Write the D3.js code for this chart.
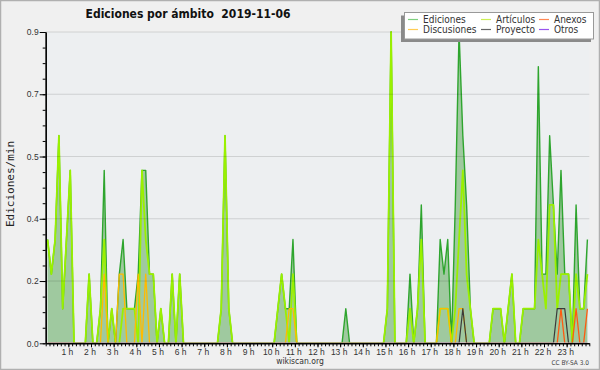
<!DOCTYPE html>
<html>
  <head>
    <meta charset="utf-8"/>
    <script type="text/javascript" src="https://cdnjs.cloudflare.com/ajax/libs/d3/7.8.5/d3.min.js"></script>
    <style type="text/css">

html, body {
  margin: 0;
  padding: 0;
  background: #f0f0f0;
}

svg {
  display: block;
  font-family: "DejaVu Sans Condensed", "DejaVu Sans", sans-serif;
}

.axis text {
  font-size: 8.5px;
  fill: #333;
}

.axis line, .axis path {
  stroke: #000;
}

.serie {
  fill: none;
  stroke-linejoin: round;
}

    </style>
  </head>
  <body>
    <div id="chart"></div>
    <script type="text/javascript">

// one value per 10 minute slot, edits per minute (144 slots)
var ediciones = [
  0.3, 0.2, 0.3, 0.6, 0.1, 0.3, 0.5, 0, 0, 0, 0, 0.2,
  0, 0, 0.1, 0.5, 0, 0.1, 0, 0.2, 0.3, 0.1, 0.1, 0.1,
  0.2, 0.5, 0.5, 0.2, 0.2, 0, 0.1, 0, 0, 0.2, 0, 0.2,
  0, 0, 0, 0, 0, 0, 0, 0, 0, 0, 0.1, 0.6,
  0.1, 0, 0, 0, 0, 0, 0, 0, 0, 0, 0, 0,
  0, 0.1, 0.2, 0.1, 0.1, 0.3, 0, 0, 0, 0, 0, 0,
  0, 0, 0, 0, 0, 0, 0, 0.1, 0, 0, 0, 0,
  0, 0, 0, 0, 0, 0, 0.1, 0.9, 0, 0, 0, 0,
  0.2, 0, 0.1, 0.4, 0, 0, 0, 0, 0.3, 0.2, 0.3, 0,
  0.4, 0.9, 0.6, 0.4, 0.1, 0, 0, 0, 0, 0, 0.1, 0.1,
  0.1, 0, 0.1, 0.2, 0, 0, 0.1, 0.1, 0.1, 0.1, 0.8, 0.2,
  0.2, 0.6, 0.4, 0.2, 0.5, 0.2, 0.2, 0, 0.4, 0.1, 0.1, 0.3
];

var articulos = [
  0.3, 0.2, 0.3, 0.6, 0.1, 0.3, 0.5, 0, 0, 0, 0, 0.2,
  0, 0, 0.1, 0.3, 0, 0.1, 0, 0, 0.1, 0.1, 0.1, 0.1,
  0, 0.5, 0.3, 0.2, 0.2, 0, 0.1, 0, 0, 0.2, 0, 0.2,
  0, 0, 0, 0, 0, 0, 0, 0, 0, 0, 0.1, 0.6,
  0.1, 0, 0, 0, 0, 0, 0, 0, 0, 0, 0, 0,
  0, 0.1, 0.2, 0.1, 0, 0.2, 0, 0, 0, 0, 0, 0,
  0, 0, 0, 0, 0, 0, 0, 0, 0, 0, 0, 0,
  0, 0, 0, 0, 0, 0, 0.1, 0.9, 0, 0, 0, 0,
  0.1, 0, 0.1, 0.3, 0, 0, 0, 0, 0.1, 0.1, 0.1, 0,
  0.1, 0.3, 0.5, 0.2, 0.1, 0, 0, 0, 0, 0, 0.1, 0.1,
  0.1, 0, 0.1, 0.2, 0, 0, 0.1, 0.1, 0.1, 0.1, 0.3, 0.2,
  0.1, 0.4, 0.4, 0.1, 0.2, 0.2, 0.2, 0, 0.2, 0.1, 0.1, 0.2
];

var discusiones = [
  0, 0, 0, 0, 0, 0, 0, 0, 0, 0, 0, 0,
  0, 0, 0, 0.2, 0, 0, 0, 0.2, 0.2, 0, 0, 0,
  0.2, 0, 0.2, 0, 0, 0, 0, 0, 0, 0, 0, 0,
  0, 0, 0, 0, 0, 0, 0, 0, 0, 0, 0, 0,
  0, 0, 0, 0, 0, 0, 0, 0, 0, 0, 0, 0,
  0, 0, 0, 0, 0.1, 0.1, 0, 0, 0, 0, 0, 0,
  0, 0, 0, 0, 0, 0, 0, 0, 0, 0, 0, 0,
  0, 0, 0, 0, 0, 0, 0, 0, 0, 0, 0, 0,
  0, 0, 0, 0, 0, 0, 0, 0, 0.1, 0.1, 0.1, 0,
  0, 0.1, 0.1, 0, 0, 0, 0, 0, 0, 0, 0, 0,
  0, 0, 0, 0, 0, 0, 0, 0, 0, 0, 0, 0,
  0, 0, 0, 0, 0, 0, 0, 0, 0, 0, 0, 0
];

var anexos = [
  0, 0, 0, 0, 0, 0, 0, 0, 0, 0, 0, 0,
  0, 0, 0, 0, 0, 0, 0, 0, 0, 0, 0, 0,
  0, 0, 0, 0, 0, 0, 0, 0, 0, 0, 0, 0,
  0, 0, 0, 0, 0, 0, 0, 0, 0, 0, 0, 0,
  0, 0, 0, 0, 0, 0, 0, 0, 0, 0, 0, 0,
  0, 0, 0, 0, 0, 0, 0, 0, 0, 0, 0, 0,
  0, 0, 0, 0, 0, 0, 0, 0, 0, 0, 0, 0,
  0, 0, 0, 0, 0, 0, 0, 0, 0, 0, 0, 0,
  0, 0, 0, 0, 0, 0, 0, 0, 0, 0, 0, 0,
  0, 0, 0, 0, 0, 0, 0, 0, 0, 0, 0, 0,
  0, 0, 0, 0, 0, 0, 0, 0, 0, 0, 0, 0,
  0, 0, 0, 0, 0.1, 0, 0, 0, 0.1, 0, 0, 0.1
];

var proyecto = [
  0, 0, 0, 0, 0, 0, 0, 0, 0, 0, 0, 0,
  0, 0, 0, 0, 0, 0, 0, 0, 0, 0, 0, 0,
  0, 0, 0, 0, 0, 0, 0, 0, 0, 0, 0, 0,
  0, 0, 0, 0, 0, 0, 0, 0, 0, 0, 0, 0,
  0, 0, 0, 0, 0, 0, 0, 0, 0, 0, 0, 0,
  0, 0, 0, 0, 0, 0, 0, 0, 0, 0, 0, 0,
  0, 0, 0, 0, 0, 0, 0, 0, 0, 0, 0, 0,
  0, 0, 0, 0, 0, 0, 0, 0, 0, 0, 0, 0,
  0, 0, 0, 0, 0, 0, 0, 0, 0, 0, 0, 0,
  0, 0, 0.1, 0, 0, 0, 0, 0, 0, 0, 0, 0,
  0, 0, 0, 0, 0, 0, 0, 0, 0, 0, 0, 0,
  0, 0, 0, 0.1, 0.1, 0.1, 0, 0, 0, 0, 0, 0
];

var otros = [
  0, 0, 0, 0, 0, 0, 0, 0, 0, 0, 0, 0,
  0, 0, 0, 0, 0, 0, 0, 0, 0, 0, 0, 0,
  0, 0, 0, 0, 0, 0, 0, 0, 0, 0, 0, 0,
  0, 0, 0, 0, 0, 0, 0, 0, 0, 0, 0, 0,
  0, 0, 0, 0, 0, 0, 0, 0, 0, 0, 0, 0,
  0, 0, 0, 0, 0, 0, 0, 0, 0, 0, 0, 0,
  0, 0, 0, 0, 0, 0, 0, 0, 0, 0, 0, 0,
  0, 0, 0, 0, 0, 0, 0, 0, 0, 0, 0, 0,
  0, 0, 0, 0, 0, 0, 0, 0, 0, 0, 0, 0,
  0, 0, 0, 0, 0, 0, 0, 0, 0, 0, 0, 0,
  0, 0, 0, 0, 0, 0, 0, 0, 0, 0, 0, 0,
  0, 0, 0, 0, 0, 0, 0, 0, 0, 0, 0, 0
];

var hourTicks = [1, 2, 3, 4, 5, 6, 7, 8, 9, 10, 11, 12, 13, 14, 15, 16, 17, 18, 19, 20, 21, 22, 23];
var yTicks = [0, 0.18, 0.36, 0.54, 0.72, 0.9];

var legendNames = ["Ediciones", "Discusiones", "Artículos", "Proyecto", "Anexos", "Otros"];
var legendColors = ["#7fcf7f", "#ffcc55", "#ccee55", "#666666", "#ff8855", "#9955ee"];

var width = 600, height = 370;

var svg = d3.select("#chart").append("svg")
    .attr("width", width)
    .attr("height", height);

svg.append("rect")
    .attr("x", 0.5).attr("y", 0.5)
    .attr("width", width - 1).attr("height", height - 1)
    .attr("fill", "#f0f0f0")
    .attr("stroke", "#b0b0b0")
    .attr("stroke-width", 1.5);

var x = d3.scaleLinear().domain([0, 24]).range([45.7, 589.3]);
var y = d3.scaleLinear().domain([0, 0.9]).range([343.3, 32]);

// slot i sits in the middle of its 10 minutes
function slotX(d, i) { return x((i + 0.5) / 6); }

svg.append("rect")
    .attr("x", x(0)).attr("y", y(0.9))
    .attr("width", x(24) - x(0)).attr("height", y(0) - y(0.9))
    .attr("fill", "#edeff1");

svg.append("clipPath").attr("id", "plot")
  .append("rect")
    .attr("x", x(0)).attr("y", 0)
    .attr("width", x(24) - x(0)).attr("height", y(0) - 0.8);

var plot = svg.append("g").attr("clip-path", "url(#plot)");

plot.append("path")
    .datum(ediciones)
    .attr("fill", "#9fc99f")
    .attr("d", d3.area().x(slotX).y0(y(0)).y1(function(d) { return y(d); }));

// grid over the fill
svg.append("g")
    .selectAll("line")
    .data(yTicks.slice(1))
  .enter().append("line")
    .attr("x1", x(0)).attr("x2", x(24))
    .attr("y1", function(d) { return y(d); })
    .attr("y2", function(d) { return y(d); })
    .attr("stroke", "#000")
    .attr("stroke-opacity", 0.13);

var line = d3.line().x(slotX).y(function(d) { return y(d); });

var series = [
  {values: ediciones, color: "#2ea52e", w: 1.4},
  {values: articulos, color: "#9af000", w: 1.8},
  {values: discusiones, color: "#ffbb00", w: 1.3},
  {values: anexos, color: "#ff5a10", w: 1.3},
  {values: proyecto, color: "#3a3a3a", w: 1.2},
  {values: otros, color: "#8833ee", w: 1.2}
];

plot.selectAll("path.serie")
    .data(series)
  .enter().append("path")
    .attr("class", "serie")
    .attr("stroke", function(d) { return d.color; })
    .attr("stroke-width", function(d) { return d.w; })
    .attr("d", function(d) { return line(d.values); });

// y axis
var yMinor = d3.range(0, 0.9001, 0.045);

svg.append("g")
    .attr("class", "axis")
    .attr("transform", "translate(" + x(0) + ",0)")
    .call(d3.axisLeft(y).tickValues(yMinor).tickSize(3).tickSizeOuter(0).tickFormat(""));

svg.append("g")
    .attr("class", "axis")
    .attr("transform", "translate(" + x(0) + ",0)")
    .call(d3.axisLeft(y).tickValues(yTicks).tickSize(6).tickSizeOuter(0)
      .tickPadding(1).tickFormat(d3.format(".1f")))
    .call(function(g) { g.select(".domain").attr("stroke-width", 1.4); });

// x axis
var xMinor = d3.range(0, 24.001, 1 / 6);

svg.append("g")
    .attr("class", "axis")
    .attr("transform", "translate(0," + y(0) + ")")
    .call(d3.axisBottom(x).tickValues(xMinor).tickSize(3).tickSizeOuter(0).tickFormat(""))
    .call(function(g) { g.select(".domain").attr("stroke-width", 1.4); });

svg.append("g")
    .attr("class", "axis")
    .attr("transform", "translate(0," + y(0) + ")")
    .call(d3.axisBottom(x).tickValues(hourTicks).tickSize(4).tickSizeOuter(0)
      .tickPadding(2).tickFormat(function(d) { return d + " h"; }))
    .call(function(g) {
      g.select(".domain").remove();
      g.selectAll("text").attr("x", -1.5);
    });

svg.append("text")
    .attr("transform", "translate(14," + 184 + ") rotate(-90)")
    .attr("text-anchor", "middle")
    .style("font-family", "'DejaVu Sans Mono', monospace")
    .style("font-size", "11px")
    .attr("fill", "#222")
    .text("Ediciones/min");

svg.append("text")
    .attr("x", 188).attr("y", 18)
    .attr("text-anchor", "middle")
    .style("font-size", "12px")
    .style("font-weight", "bold")
    .style("white-space", "pre")
    .attr("fill", "#111")
    .text("Ediciones por ámbito  2019-11-06");

svg.append("text")
    .attr("x", 300).attr("y", 364)
    .attr("text-anchor", "middle")
    .style("font-size", "8.5px")
    .attr("fill", "#333")
    .text("wikiscan.org");

svg.append("text")
    .attr("x", 589).attr("y", 365)
    .attr("text-anchor", "end")
    .style("font-size", "6.5px")
    .attr("fill", "#444")
    .text("CC BY-SA 3.0");

// legend, shadow to the lower left
var legend = svg.append("g");

legend.append("rect")
    .attr("x", 401).attr("y", 15.5)
    .attr("width", 190).attr("height", 26.5)
    .attr("fill", "#8a8a8a");

legend.append("rect")
    .attr("x", 404.5).attr("y", 12.5)
    .attr("width", 189).attr("height", 26.5)
    .attr("fill", "#fff")
    .attr("stroke", "#999");

var colX = [408, 481, 539];
var rowY = [19.5, 29.5];

var item = legend.selectAll("g.item")
    .data(legendNames)
  .enter().append("g")
    .attr("transform", function(d, i) {
      return "translate(" + colX[Math.floor(i / 2)] + "," + rowY[i % 2] + ")";
    });

item.append("line")
    .attr("x1", 0).attr("x2", 10)
    .attr("stroke", function(d, i) { return legendColors[i]; })
    .attr("stroke-width", 1.2);

item.append("text")
    .attr("x", 15).attr("dy", "0.35em")
    .style("font-size", "10px")
    .attr("fill", "#333")
    .text(function(d) { return d; });

    </script>
  </body>
</html>
